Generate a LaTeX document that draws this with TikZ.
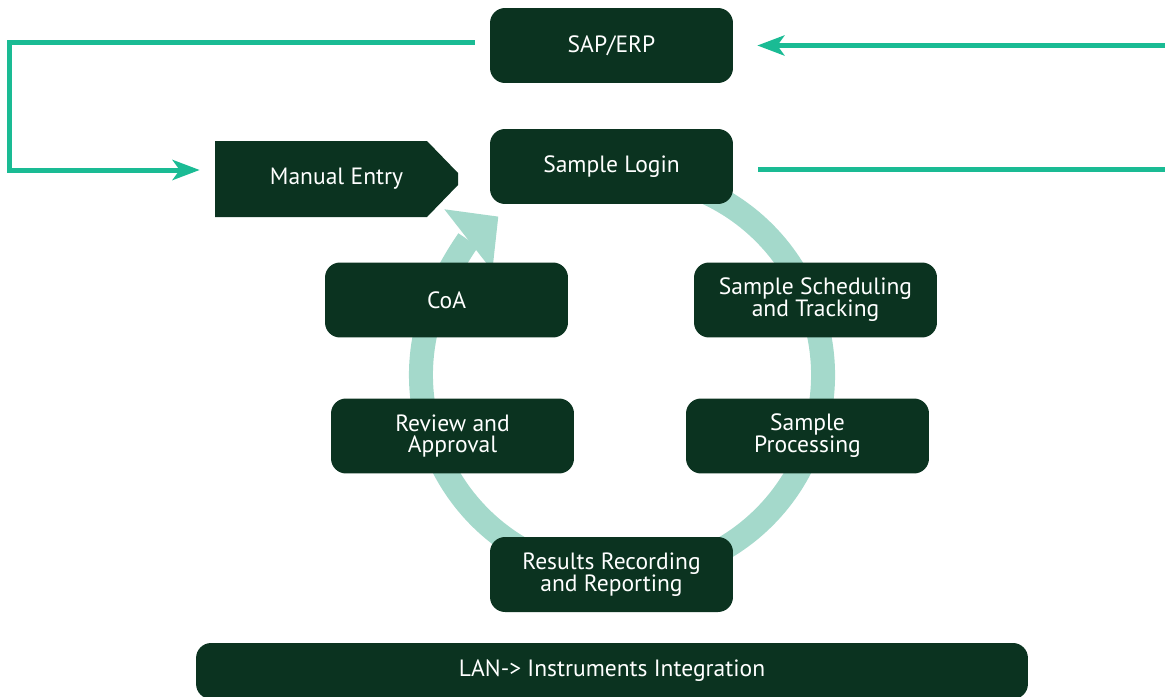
\documentclass[tikz,border=0pt]{standalone}
\usepackage{fontspec}
\setmainfont{PT Sans}
\usepackage{tikz}
\usetikzlibrary{arrows.meta}
\definecolor{limsgreen}{RGB}{11,51,32}
\definecolor{flowteal}{RGB}{26,187,148}
\definecolor{ringmint}{RGB}{164,217,203}

\begin{document}
\begin{tikzpicture}[x=0.02cm, y=-0.02cm,
    stage/.style={fill=limsgreen, text=white, rounded corners=0.3cm,
        minimum width=4.86cm, minimum height=1.5cm, inner sep=0pt,
        align=center, font=\fontsize{13.4}{12.5}\selectfont},
    link/.style={draw=flowteal, line width=0.1cm},
    linktip/.style={-{Stealth[length=0.54cm, width=0.4cm, inset=0.14cm]}},
    lifecycle/.style={draw=ringmint, line width=0.48cm}]
    \useasboundingbox (0,0) rectangle (1165,696);
    % ring behind the stages
    \draw[lifecycle, -{Triangle[length=0.76cm, width=1.56cm, line width=0pt]}]
        (622,375) ++(-70:201) arc[start angle=-70, end angle=232, radius=201];
    % stages
    \node[stage] (sap) at (611.5,45.5) {SAP/ERP};
    \node[stage] (login) at (611.5,166.5) {Sample Login};
    \coordinate (entrypos) at (336.5,179);
    \fill[limsgreen] ([shift={(-121.5,-38)}]entrypos) -- ++(212,0) -- ++(31,32)
        -- ++(0,12) -- ++(-31,32) -- ++(-212,0) -- cycle;
    \node[stage, fill=none, minimum height=1.52cm] (manual) at (entrypos) {Manual Entry};
    \node[stage] (coa) at (446.5,300) {CoA};
    \node[stage] (sched) at (815.5,300) {Sample Scheduling\\and Tracking};
    \node[stage] (review) at (452.5,436) {Review and\\Approval};
    \node[stage] (proc) at (807.5,436) {Sample\\Processing};
    \node[stage] (results) at (611.5,574.5) {Results Recording\\and Reporting};
    \node[stage, minimum width=16.64cm, minimum height=1.12cm] (lan) at (612,671)
        {LAN-> Instruments Integration};
    % data links
    \coordinate (erpin) at (1165,45.5);
    \coordinate (loginout) at (1165,169.5);
    \draw[link, linktip] ([shift={(-15,-2.5)}]sap.west) -- ++(-465,0)
        |- ([shift={(-15,-9)}]manual.west);
    \draw[link, linktip] (erpin) -- ([xshift=0.48cm]sap.east);
    \draw[link] ([shift={(25,3)}]login.east) -- (loginout);
\end{tikzpicture}
\end{document}
